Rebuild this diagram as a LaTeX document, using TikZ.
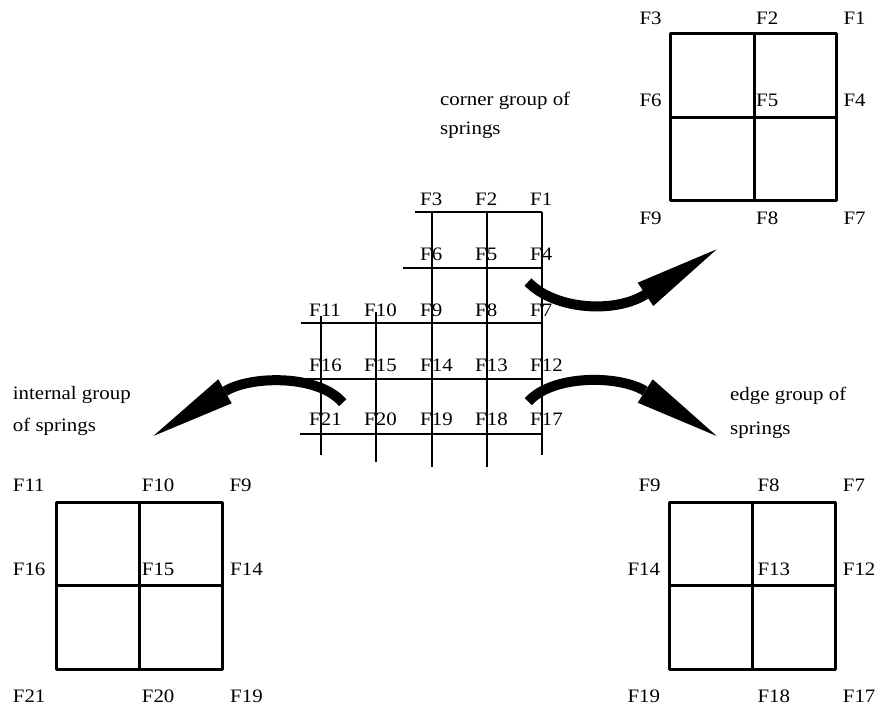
\documentclass[tikz,border=0pt]{standalone}
\usepackage{fontspec}
\setmainfont[FakeStretch=1.1]{Liberation Serif}
\begin{document}
\begin{tikzpicture}[x=1pt,y=-1pt,
  lbl/.style={font=\fontsize{19}{22}\selectfont, inner sep=0pt, anchor=west},
  txt/.style={font=\fontsize{19}{22}\selectfont, inner sep=0pt, anchor=base west},
  gridline/.style={line width=2pt},
  boxline/.style={line width=3pt, line join=round},
  band/.style={line width=10pt},
  head/.style={fill=black}]
\fill[white] (0,0) rectangle (879,708);
\useasboundingbox (0,0) rectangle (879,708);

% ---------- central grid ----------
\draw[gridline] (415,212) -- (542,212);
\draw[gridline] (403,268) -- (542,268);
\draw[gridline] (301,323) -- (542,323);
\draw[gridline] (301,379) -- (542,379);
\draw[gridline] (300,434) -- (542,434);
\draw[gridline] (321,316) -- (321,455);
\draw[gridline] (376,312) -- (376,462);
\draw[gridline] (432,212) -- (432,467);
\draw[gridline] (487,212) -- (487,467);
\draw[gridline] (542,212) -- (542,455);

\node[lbl] (g3) at (420,199) {F3};
\node[lbl] (g2) at (475,199) {F2};
\node[lbl] (g1) at (530,199) {F1};
\node[lbl] (g6) at (420,254) {F6};
\node[lbl] (g5) at (475,254) {F5};
\node[lbl] (g4) at (530,254) {F4};
\node[lbl] (g11) at (309,310) {F11};
\node[lbl] (g10) at (364,310) {F10};
\node[lbl] (g9) at (420,310) {F9};
\node[lbl] (g8) at (475,310) {F8};
\node[lbl] (g7) at (530,310) {F7};
\node[lbl] (g16) at (309,365) {F16};
\node[lbl] (g15) at (364,365) {F15};
\node[lbl] (g14) at (420,365) {F14};
\node[lbl] (g13) at (475,365) {F13};
\node[lbl] (g12) at (530,365) {F12};
\node[lbl] (g21) at (309,419) {F21};
\node[lbl] (g20) at (364,419) {F20};
\node[lbl] (g19) at (420,419) {F19};
\node[lbl] (g18) at (475,419) {F18};
\node[lbl] (g17) at (530,419) {F17};

% ---------- arrows ----------
\coordinate (ta) at (528,282);
\coordinate (ha) at (645.7,294.3);
\draw[band] (ta) .. controls (555,310) and (615,313.7) .. (ha);
\fill[head] (637.7,282.7) -- (716.7,249.3) -- (653.3,306) -- cycle;

\coordinate (tb) at (342.7,402.7);
\coordinate (hb) at (225,391.3);
\draw[band] (tb) .. controls (318,374) and (250,375.7) .. (hb);
\fill[head] (218.3,379.3) -- (153.3,436) -- (231.7,403.3) -- cycle;

\coordinate (tc) at (528.3,401.7);
\coordinate (hc) at (645,391);
\draw[band] (tc) .. controls (553,374) and (620,375.3) .. (hc);
\fill[head] (652.7,379.3) -- (716.7,436) -- (637.7,402.7) -- cycle;

% ---------- captions ----------
\node[txt] (c1) at (440,106) {corner group of};
\node[txt] (c2) at (440,135) {springs};
\node[txt] (i1) at (12.7,400) {internal group};
\node[txt] (i2) at (12.7,431.7) {of springs};
\node[txt] (e1) at (730,400.7) {edge group of};
\node[txt] (e2) at (730,435) {springs};

% ---------- corner box (top right) ----------
\draw[boxline] (670.7,34) rectangle (836.7,200.7);
\draw[boxline] (754,34) -- (754,200.7);
\draw[boxline] (670.7,117.3) -- (836.7,117.3);
\node[lbl] (a3) at (639.3,18) {F3};
\node[lbl] (a2) at (756,18) {F2};
\node[lbl] (a1) at (843.3,18) {F1};
\node[lbl] (a6) at (639.3,100) {F6};
\node[lbl] (a5) at (756,100) {F5};
\node[lbl] (a4) at (843.3,100) {F4};
\node[lbl] (a9) at (639.3,218) {F9};
\node[lbl] (a8) at (756,218) {F8};
\node[lbl] (a7) at (843.3,218) {F7};

% ---------- internal box (bottom left) ----------
\draw[boxline] (56.7,502.7) rectangle (222.3,669.3);
\draw[boxline] (139.3,502.7) -- (139.3,669.3);
\draw[boxline] (56.7,586) -- (222.3,586);
\node[lbl] (b11) at (12.7,485) {F11};
\node[lbl] (b10) at (141.7,485) {F10};
\node[lbl] (b9) at (229.3,485) {F9};
\node[lbl] (b16) at (12.7,569) {F16};
\node[lbl] (b15) at (141.7,569) {F15};
\node[lbl] (b14) at (230,569) {F14};
\node[lbl] (b21) at (12.7,696.7) {F21};
\node[lbl] (b20) at (141.7,696.7) {F20};
\node[lbl] (b19) at (230,696.7) {F19};

% ---------- edge box (bottom right) ----------
\draw[boxline] (669.3,502.7) rectangle (835,669.3);
\draw[boxline] (752.7,502.7) -- (752.7,669.3);
\draw[boxline] (669.3,586) -- (835,586);
\node[lbl] (d9) at (638.3,485) {F9};
\node[lbl] (d8) at (757.3,485) {F8};
\node[lbl] (d7) at (842.7,485) {F7};
\node[lbl] (d14) at (627.3,569) {F14};
\node[lbl] (d13) at (757.3,569) {F13};
\node[lbl] (d12) at (842.7,569) {F12};
\node[lbl] (d19) at (627.3,696.7) {F19};
\node[lbl] (d18) at (757.3,696.7) {F18};
\node[lbl] (d17) at (842.7,696.7) {F17};
\end{tikzpicture}
\end{document}
